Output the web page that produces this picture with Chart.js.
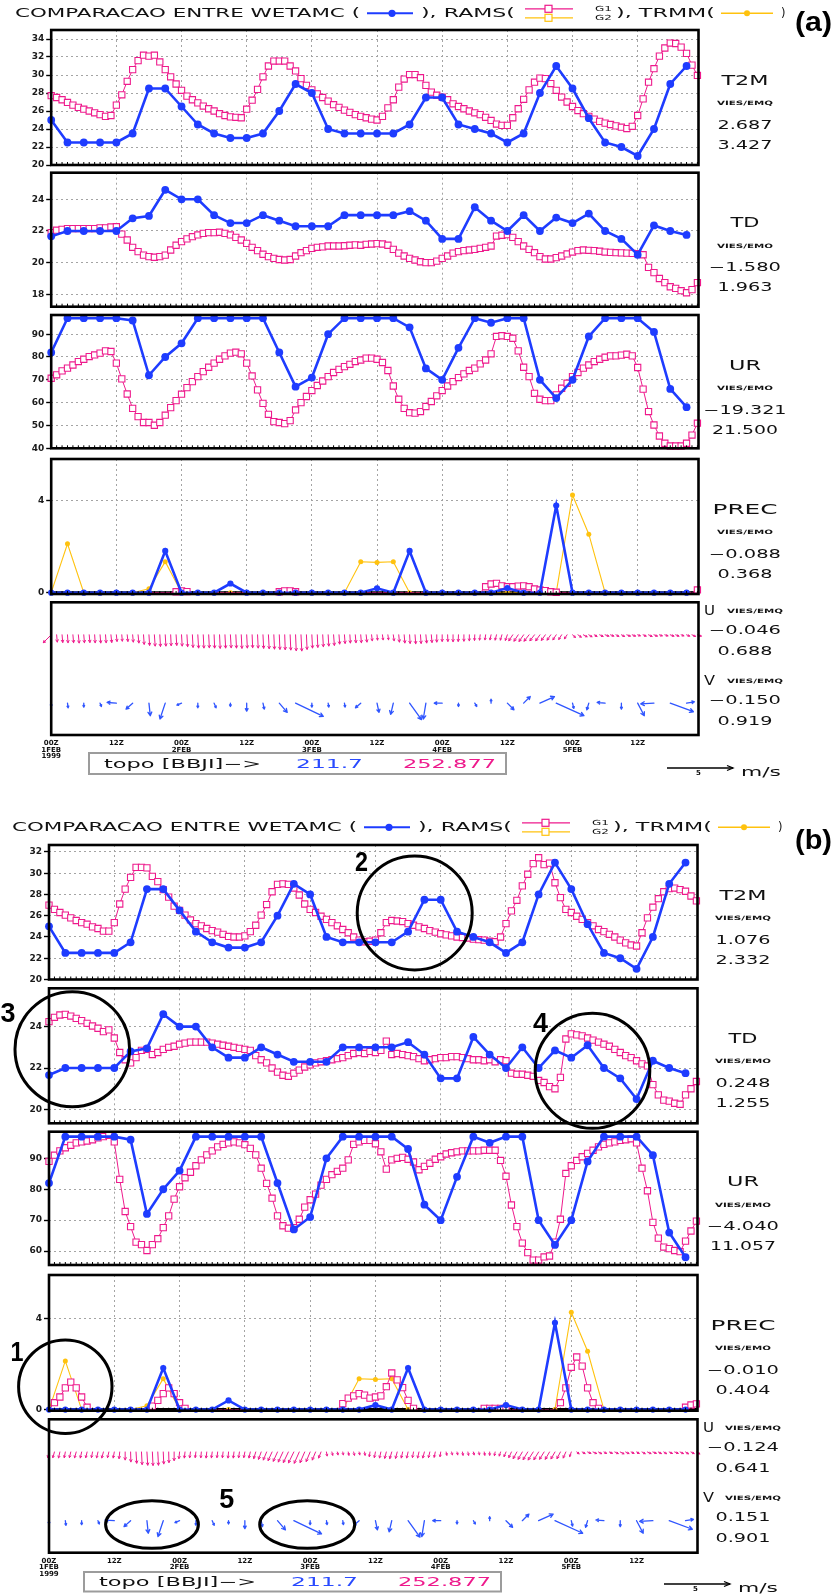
<!DOCTYPE html>
<html>
<head>
<meta charset="utf-8">
<script src="https://cdn.jsdelivr.net/npm/chart.js@4.4.1/dist/chart.umd.min.js"></script>
<style>
  html, body { margin: 0; padding: 0; background: #fff; }
  #page { position: relative; width: 832px; height: 1595px; overflow: hidden; background: #fff; }
  #page canvas { position: absolute; left: 0; }
  #page svg { position: absolute; left: 0; top: 0; }
</style>
</head>
<body>
<div id="page"></div>
<script>
// ---------------- time axis (hours since 00Z 1 FEB 1999) ----------------
const HOURS_1H = [0,1,2,3,4,5,6,7,8,9,10,11,12,13,14,15,16,17,18,19,20,21,22,23,
  24,25,26,27,28,29,30,31,32,33,34,35,36,37,38,39,40,41,42,43,44,45,46,47,
  48,49,50,51,52,53,54,55,56,57,58,59,60,61,62,63,64,65,66,67,68,69,70,71,
  72,73,74,75,76,77,78,79,80,81,82,83,84,85,86,87,88,89,90,91,92,93,94,95,
  96,97,98,99,100,101,102,103,104,105,106,107,108,109,110,111,112,113,114,115,116,117,118,119];
const HOURS_3H = [0,3,6,9,12,15,18,21,24,27,30,33,36,39,42,45,48,51,54,57,
  60,63,66,69,72,75,78,81,84,87,90,93,96,99,102,105,108,111,114,117];
const TICK_HOURS = [0,12,24,36,48,60,72,84,96,108];
const TICK_TIME  = ['00Z','12Z','00Z','12Z','00Z','12Z','00Z','12Z','00Z','12Z'];
const TICK_DAY   = ['1FEB','','2FEB','','3FEB','','4FEB','','5FEB',''];
const TICK_YEAR  = ['1999','','','','','','','','',''];

// ---------------- y ticks ----------------
const T2M_TICKS_A = [20,22,24,26,28,30,32,34];
const TD_TICKS_A  = [18,20,22,24];
const UR_TICKS_A  = [40,50,60,70,80,90];
const T2M_TICKS_B = [20,22,24,26,28,30,32];
const TD_TICKS_B  = [20,22,24];
const UR_TICKS_B  = [60,70,80,90];
const PREC_TICKS  = [0,4];

// ---------------- WETAMC station (3-hourly) ----------------
const T2M_WETAMC = [25.0,22.5,22.5,22.5,22.5,23.5,28.5,28.5,26.5,24.5,
  23.5,23.0,23.0,23.5,26.0,29.0,28.0,24.0,23.5,23.5,
  23.5,23.5,24.5,27.5,27.5,24.5,24.0,23.5,22.5,23.5,
  28.0,31.0,28.5,25.2,22.5,22.0,21.0,24.0,29.0,31.0];
const TD_WETAMC = [21.66,22.0,22.0,22.0,22.0,22.8,22.95,24.6,24.0,24.0,
  23.0,22.5,22.5,23.0,22.65,22.3,22.3,22.3,23.0,23.0,
  23.0,23.0,23.25,22.65,21.5,21.5,23.5,22.65,22.0,23.0,
  22.0,22.85,22.5,23.1,22.0,21.5,20.5,22.35,22.0,21.75];
const UR_WETAMC = [82,97,97,97,97,96,72,80,86,97,
  97,97,97,97,82,67,71,90,97,97,
  97,97,93,75,70,84,97,95,97,97,
  70,62,70,89,97,97,97,91,66,58];
const PREC_WETAMC = [0,0,0,0,0,0,0,1.82,0,0,
  0,0.4,0,0,0,0,0,0,0,0,
  0.19,0,1.82,0,0,0,0,0,0.2,0,
  0,3.8,0,0,0,0,0,0,0,0];
// TRMM (3-hourly)
const PREC_TRMM = [0,2.13,0,0,0,0,0.17,1.35,0,0,
  0,0,0,0,0,0,0,0,0,1.35,
  1.32,1.35,0,0,0,0,0,0,0,0,
  0,0,4.26,2.55,0,0,0,0,0,0];

// ---------------- RAMS, run (a) (hourly) ----------------
const T2M_RAMS_A = [27.7,27.5,27.25,26.95,26.65,26.4,26.2,26.0,25.8,25.6,25.4,25.5,26.65,27.8,29.3,30.6,31.6,32.2,32.1,32.2,31.45,30.6,29.8,29.0,
  28.3,27.65,27.25,26.9,26.55,26.25,26.0,25.7,25.5,25.35,25.3,25.25,26.2,27.2,28.4,29.8,31.0,31.55,31.55,31.55,31.0,30.45,29.6,28.85,
  28.35,27.9,27.5,27.1,26.7,26.4,26.1,25.85,25.6,25.4,25.25,25.1,25.0,25.4,26.35,27.25,28.65,29.55,30.05,30.05,29.7,28.85,28.1,27.75,
  27.55,27.25,26.8,26.5,26.25,26.0,25.8,25.6,25.3,24.95,24.55,24.4,24.4,25.25,26.25,27.3,28.35,29.2,29.65,29.6,29.05,28.3,27.55,27.0,
  26.5,26.05,25.7,25.4,25.1,24.85,24.65,24.5,24.35,24.2,24.05,24.3,25.5,27.35,29.2,30.7,32.1,33.0,33.55,33.5,33.1,32.4,31.1,29.95];
const TD_RAMS_A = [21.9,22.05,22.1,22.15,22.15,22.15,22.15,22.15,22.15,22.2,22.2,22.25,
  22.27,21.8,21.43,20.97,20.7,20.48,20.38,20.34,20.38,20.48,20.8,21.1,
  21.33,21.5,21.64,21.75,21.85,21.9,21.9,21.92,21.85,21.75,21.6,21.43,
  21.22,20.97,20.76,20.53,20.38,20.27,20.2,20.17,20.2,20.42,20.63,20.76,
  20.9,20.97,21.0,21.05,21.05,21.05,21.07,21.1,21.12,21.1,21.16,21.18,
  21.2,21.18,21.1,20.84,20.6,20.42,20.27,20.17,20.06,20.0,20.0,20.1,
  20.27,20.42,20.6,20.7,20.76,20.8,20.84,20.9,20.97,21.05,21.68,21.73,
  21.77,21.6,21.33,21.05,20.84,20.63,20.38,20.23,20.23,20.32,20.42,20.55,
  20.67,20.76,20.8,20.78,20.76,20.72,20.67,20.65,20.63,20.62,20.6,20.59,
  20.57,20.5,19.7,19.37,19.0,18.74,18.48,18.38,18.23,18.1,18.3,18.74];
const UR_RAMS_A = [70.7,72.2,73.9,75.1,76.5,78.0,79.0,80.2,80.9,81.7,82.7,82.4,
  77.3,70.4,63.8,57.5,53.9,51.3,51.3,50.1,51.3,54.5,57.8,60.9,
  63.7,66.6,69.2,71.4,73.6,75.5,77.3,79.0,80.5,81.7,82.1,81.4,
  77.3,71.7,65.6,59.7,54.9,51.7,51.3,50.8,52.1,56.8,60.0,62.7,
  65.3,67.5,69.5,71.4,73.2,74.6,75.8,76.8,78.0,78.7,79.5,79.5,
  79.0,77.6,74.1,67.3,61.5,57.5,55.6,55.4,56.1,58.3,60.5,63.0,
  65.3,67.3,69.2,71.0,72.6,74.1,75.1,77.0,78.7,81.4,89.0,89.3,
  89.0,88.2,82.7,75.5,71.4,64.1,61.5,60.9,60.9,63.4,66.3,68.5,
  71.4,73.2,75.1,76.5,78.0,79.0,79.9,80.5,80.5,80.8,81.2,80.5,
  75.4,65.9,56.1,50.2,45.4,42.2,41.0,41.0,41.0,42.2,45.8,51.0];
const PREC_RAMS_A = [0,0,0,0,0,0,0,0,0,0,0,0,
  0,0,0,0,0,0,0,0,0,0,0,0.04,
  0.08,0.05,0,0,0,0,0,0,0,0,0,0,
  0,0,0,0,0,0,0.04,0.08,0.08,0.04,0,0,
  0,0,0,0,0,0,0,0,0,0,0,0,
  0,0,0,0,0,0,0,0,0,0,0,0,
  0,0,0,0,0,0,0,0,0.26,0.38,0.41,0.3,
  0.26,0.26,0.29,0.3,0.26,0.16,0.12,0.09,0.04,0.02,0,0,
  0,0,0,0,0,0,0,0,0,0,0,0,
  0,0,0,0,0,0,0,0,0,0,0,0.12];

// ---------------- RAMS, run (b) (hourly) ----------------
const T2M_RAMS_B = [27.0,26.6,26.3,26.05,25.8,25.55,25.35,25.2,24.95,24.8,24.55,24.55,
  25.35,27.1,28.5,29.6,30.55,30.55,30.5,29.7,29.2,28.45,27.75,26.9,
  26.5,26.05,25.6,25.25,25.05,24.8,24.6,24.45,24.25,24.05,24.0,24.0,
  24.1,24.5,25.1,26.05,27.05,28.25,28.95,29.0,28.95,28.6,27.95,27.1,
  26.6,26.3,25.95,25.65,25.35,25.05,24.7,24.4,24.0,23.7,23.55,23.6,
  23.7,24.4,25.35,25.55,25.5,25.45,25.25,25.1,24.95,24.8,24.6,24.45,
  24.3,24.2,24.1,24.0,23.95,23.9,23.8,23.75,23.7,23.6,23.55,24.0,
  25.25,26.45,27.45,28.8,29.9,30.9,31.45,30.8,30.95,29.1,27.7,26.6,
  26.3,25.95,25.65,25.35,25.05,24.7,24.5,24.25,24.0,23.7,23.45,23.25,
  23.15,24.4,25.8,26.8,27.6,28.25,28.55,28.6,28.45,28.3,27.85,27.4];
const TD_RAMS_B = [24.24,24.45,24.56,24.59,24.51,24.4,24.29,24.16,24.03,23.92,23.76,23.84,
  23.45,22.75,22.4,22.25,22.5,22.85,22.9,22.65,22.75,22.9,23.0,23.05,
  23.15,23.2,23.25,23.25,23.25,23.25,23.2,23.15,23.1,23.05,23.0,22.95,
  22.9,22.85,22.6,22.4,22.25,22.0,21.8,21.65,21.6,21.75,21.9,22.05,
  22.15,22.25,22.3,22.35,22.4,22.45,22.5,22.6,22.7,22.75,22.7,22.8,
  22.75,22.85,23.3,22.65,22.7,22.65,22.6,22.55,22.45,22.35,22.4,22.45,
  22.5,22.5,22.55,22.55,22.5,22.45,22.4,22.4,22.35,22.4,22.3,22.4,
  22.35,21.75,21.7,21.7,21.65,21.6,21.4,21.3,21.1,21.0,21.55,23.4,
  23.65,23.6,23.55,23.45,23.35,23.25,23.15,23.05,22.9,22.75,22.6,22.5,
  22.35,22.2,22.1,21.2,20.7,20.45,20.4,20.3,20.25,20.7,21.0,21.35];
const UR_RAMS_B = [89.0,91.0,92.4,93.4,94.2,95.0,95.3,95.6,96.0,96.6,97.0,97.4,
  95.3,83.2,72.8,67.9,62.9,62.1,60.2,62.1,64.0,67.6,71.4,76.8,
  80.8,83.7,85.5,87.6,89.5,91.1,92.4,93.7,94.5,95.0,95.3,95.0,
  94.4,93.2,91.1,86.8,81.9,77.1,71.4,68.2,67.4,67.6,70.3,74.2,
  76.6,78.4,81.3,83.2,84.7,85.8,86.8,89.5,94.5,95.3,95.8,95.8,
  94.7,92.1,86.5,89.5,90.0,90.3,89.7,88.8,86.3,87.4,88.4,89.7,
  90.5,91.4,91.8,92.1,92.4,92.4,92.4,92.4,92.6,92.6,92.6,89.3,
  84.2,74.9,67.9,62.6,59.5,57.1,57.1,58.1,58.4,62.9,70.3,85.1,
  87.6,89.3,90.5,91.6,92.6,93.7,94.5,95.0,95.3,95.8,96.0,96.3,
  95.0,86.8,79.5,69.3,64.2,61.3,60.8,60.2,59.8,63.2,66.5,69.7];
const PREC_RAMS_B = [0,0.3,0.55,0.95,1.2,0.95,0.55,0.1,0,0,0,0,
  0,0,0,0,0,0,0,0.15,0.4,0.7,0.95,0.7,
  0.3,0.05,0,0,0,0,0,0,0,0,0,0,
  0,0,0,0,0,0,0,0,0,0,0,0,
  0,0,0,0,0,0,0.26,0.5,0.6,0.7,0.63,0.5,
  0.55,0.6,1.0,1.6,1.3,0.96,0.4,0.05,0,0,0,0,
  0,0,0,0,0,0,0,0,0.05,0.05,0.05,0.05,
  0.05,0,0,0,0,0,0,0,0,0,0.3,0.95,
  1.85,2.3,1.9,0.95,0.3,0.05,0,0,0,0,0,0,
  0,0,0,0,0,0,0,0,0,0.1,0.2,0.25];

// ---------------- surface wind components (m/s) ----------------
// WETAMC, 3-hourly
const U_WETAMC = [0,0.05,0,0.1,-0.7,-0.5,0.1,-0.4,-0.35,0,0.15,0,0,0.1,0.6,2.1,0,0.05,0.05,-0.4,
  0.15,-0.2,0.9,-0.2,-0.6,0,0.15,0,0.5,0.5,1.1,2.1,0.1,-0.15,-0.6,0,0.5,-1.0,1.75,0.6];
const V_WETAMC = [-0.25,-0.35,-0.3,-0.25,0.05,-0.45,-0.95,-1.2,-0.15,-0.35,-0.35,-0.25,-0.6,-0.45,-0.7,-1.0,-0.3,-0.3,-0.3,-0.35,
  -0.7,-0.85,-1.25,-1.2,0,-0.25,-0.25,0.3,-0.5,0.5,0.5,-0.95,-0.4,-0.5,0.05,-0.45,-0.95,-0.05,-0.65,0.1];
// RAMS (a), hourly
const U_RAMS_A = [-0.6,0.05,0.05,0.04,0.05,0.06,0.05,0.05,0.04,0.05,0.05,0.06,
  0.05,0.04,0.05,0.05,0.06,0.05,0.05,0.06,0.05,0.05,0.04,0.05,
  0.05,0.05,0.05,0.06,0.05,0.05,0.04,0.05,0.05,0.06,0.05,0.05,
  0.05,0.04,0.05,0.05,0.06,0.05,0.05,0.04,0.05,0.05,0.06,0.05,
  0.05,0.04,0.05,0.05,0.06,0.05,0.05,0.04,0.05,0.05,0.06,0.05,
  0.04,0.05,0.05,0.06,0.05,0.05,0.04,0.05,0.05,0.06,0.05,0.0,
  0.0,0.02,0.0,-0.02,0.0,0.0,-0.02,-0.05,-0.05,-0.08,-0.1,-0.12,
  -0.15,-0.3,-0.32,-0.35,-0.38,-0.35,-0.32,-0.3,-0.28,-0.25,-0.22,-0.2,
  0.22,0.25,0.28,0.24,0.21,0.26,0.29,0.25,0.22,0.24,0.27,0.25,
  0.2,0.23,0.27,0.26,0.22,0.24,0.28,0.25,0.21,0.24,0.27,0.3];
const V_RAMS_A = [-0.6,-0.55,-0.58,-0.6,-0.6,-0.62,-0.6,-0.58,-0.6,-0.62,-0.6,-0.58,
  -0.5,-0.48,-0.5,-0.55,-0.62,-0.72,-0.8,-0.85,-0.88,-0.85,-0.82,-0.8,
  -0.85,-0.9,-0.95,-1.0,-1.0,-0.98,-1.0,-1.02,-1.0,-0.98,-1.0,-1.02,
  -1.0,-0.98,-1.0,-1.02,-1.05,-1.08,-1.1,-1.12,-1.15,-1.2,-1.22,-1.1,
  -1.0,-0.95,-0.9,-0.85,-0.8,-0.7,-0.65,-0.62,-0.6,-0.6,-0.55,-0.45,
  -0.4,-0.38,-0.38,-0.45,-0.55,-0.62,-0.65,-0.68,-0.65,-0.62,-0.58,-0.55,
  -0.5,-0.5,-0.52,-0.5,-0.48,-0.45,-0.42,-0.4,-0.38,-0.38,-0.4,-0.4,
  -0.42,-0.45,-0.48,-0.5,-0.48,-0.45,-0.45,-0.42,-0.4,-0.38,-0.35,-0.3,
  -0.2,-0.18,-0.15,-0.15,-0.12,-0.12,-0.1,-0.1,-0.12,-0.12,-0.1,-0.1,
  -0.08,-0.1,-0.12,-0.1,-0.08,-0.08,-0.1,-0.1,-0.08,-0.1,-0.12,-0.1];
// RAMS (b), hourly
const U_RAMS_B = [-0.1,-0.12,-0.1,-0.08,-0.1,-0.12,-0.1,-0.1,-0.08,-0.1,-0.12,-0.1,-0.08,-0.05,
  0.0,0.02,0.05,0.05,0.06,0.05,0.05,0.04,0.02,0.0,
  -0.05,-0.05,-0.06,-0.05,-0.04,-0.05,-0.06,-0.05,-0.05,-0.04,-0.05,-0.06,-0.08,-0.1,-0.15,
  -0.2,-0.25,-0.3,-0.32,-0.35,-0.38,-0.4,-0.38,-0.35,-0.3,-0.25,-0.18,
  0.05,0.06,0.05,0.04,0.05,0.06,0.05,0.04,
  -0.05,-0.08,-0.1,-0.12,-0.15,-0.12,-0.1,-0.1,-0.08,-0.1,-0.12,-0.1,-0.08,-0.05,
  0.05,0.06,0.05,0.04,0.05,0.06,0.05,0.04,0.0,-0.05,-0.1,-0.15,-0.2,
  -0.28,-0.32,-0.35,-0.38,-0.36,-0.34,-0.32,-0.3,-0.26,-0.2,-0.12,
  0.18,0.22,0.25,0.27,0.24,0.2,0.23,0.26,0.28,0.25,0.22,0.2,0.24,0.27,0.26,0.23,0.21,0.24,0.27,0.25,0.22,0.24,0.26];
const V_RAMS_B = [-0.42,-0.43,-0.45,-0.43,-0.42,-0.44,-0.45,-0.43,-0.42,-0.44,-0.45,-0.43,-0.45,-0.5,
  -0.6,-0.75,-0.85,-0.95,-1.0,-1.02,-1.0,-0.9,-0.8,-0.65,
  -0.5,-0.45,-0.43,-0.42,-0.43,-0.45,-0.44,-0.42,-0.43,-0.45,-0.45,-0.43,-0.42,-0.45,-0.5,
  -0.55,-0.6,-0.65,-0.7,-0.75,-0.8,-0.82,-0.85,-0.8,-0.72,-0.6,-0.45,
  -0.3,-0.25,-0.22,-0.22,-0.25,-0.25,-0.22,-0.25,
  -0.35,-0.42,-0.45,-0.48,-0.5,-0.48,-0.45,-0.45,-0.42,-0.45,-0.45,-0.42,-0.4,-0.35,
  -0.25,-0.22,-0.22,-0.25,-0.25,-0.22,-0.22,-0.25,-0.25,-0.28,-0.3,-0.35,-0.42,
  -0.5,-0.55,-0.58,-0.6,-0.58,-0.55,-0.55,-0.52,-0.5,-0.45,-0.35,
  -0.14,-0.12,-0.1,-0.12,-0.13,-0.11,-0.1,-0.12,-0.14,-0.12,-0.1,-0.11,-0.13,-0.12,-0.1,-0.12,-0.13,-0.11,-0.1,-0.12,-0.14,-0.12,-0.15];

// ---------------- statistics text ----------------
const VAR_NAMES = ['T2M','TD','UR','PREC'];
const VAR_STAT_TAG = ['VIES/EMQ','VIES/EMO','VIES/EMO','VIES/EMO'];
const STATS_A = [['2.687','3.427'],['\u22121.580','1.963'],['\u221219.321','21.500'],['\u22120.088','0.368']];
const STATS_B = [['1.076','2.332'],['0.248','1.255'],['\u22124.040','11.057'],['\u22120.010','0.404']];
const WIND_STATS_A = [['\u22120.046','0.688'],['\u22120.150','0.919']];
const WIND_STATS_B = [['\u22120.124','0.641'],['0.151','0.901']];
const TOPO_LABEL = 'topo [BBJI]\u2212>';
const TOPO_WETAMC = '211.7';
const TOPO_RAMS = '252.877';

// ---------------- styling & geometry ----------------
const BLUE = '#1e3cff', PINK = '#ee1a8c', YELLOW = '#ffc20e', GRID = '#a4a4a4';
const X_MAX = 119.2;
const PX_PER_MS = 13.2;           // vector length scale (5 m/s reference arrow)
const LAYOUT = {
  a: { left: 51.2, right: 698.5, header: 13.3, tagY: 21, statX: 745, dx: 0,
       boxes: { t2m: [30, 165], td: [172.7, 306.7], ur: [315, 448.3], prec: [459, 594], wind: [602.3, 735] },
       ranges: { t2m: [20, 35], td: [17.22, 25.68], ur: [40, 98.4], prec: [-0.057, 5.83] },
       topo: [89, 753, 417, 21], topoY: 764, arrowY: 768 },
  b: { left: 49, right: 697.5, header: 827.3, tagY: 839, statX: 743, dx: -3,
       boxes: { t2m: [845, 979.5], td: [988.3, 1123.3], ur: [1131.7, 1265], prec: [1275, 1410.7], wind: [1419.3, 1552.7] },
       ranges: { t2m: [20, 32.65], td: [19.33, 25.85], ur: [55.5, 98.6], prec: [-0.05, 5.89] },
       topo: [84, 1572, 417, 19.5], topoY: 1581.7, arrowY: 1584 }
};

const page = document.getElementById('page');

// ---------------- plugins ----------------
const framePlugin = {
  id: 'frame',
  beforeDatasetsDraw(chart) {
    if (!chart.canvas._zeroLine) return;
    const { ctx, chartArea } = chart;
    const y = chart.scales.y.getPixelForValue(0);
    ctx.save();
    ctx.strokeStyle = '#000'; ctx.lineWidth = 3;
    ctx.beginPath(); ctx.moveTo(chartArea.left, y); ctx.lineTo(chartArea.right, y); ctx.stroke();
    ctx.restore();
  },
  afterDraw(chart) {
    const { ctx, chartArea: a } = chart;
    ctx.save();
    ctx.strokeStyle = '#000'; ctx.lineWidth = 2.6;
    ctx.strokeRect(a.left, a.top, a.right - a.left, a.bottom - a.top);
    // small hourly ticks along the bottom edge
    if (!chart.canvas._noMinor) {
      const xs = chart.scales.x;
      ctx.lineWidth = 1;
      ctx.beginPath();
      for (let h = 0; h <= 119; h += 1) {
        const x = xs.getPixelForValue(h);
        ctx.moveTo(x, a.bottom); ctx.lineTo(x, a.bottom - 3);
      }
      ctx.stroke();
    }
    ctx.restore();
  }
};

const windPlugin = {
  id: 'windArrows',
  afterDatasetsDraw(chart) {
    const series = chart.canvas._wind;
    if (!series) return;
    const { ctx } = chart;
    const xs = chart.scales.x, ys = chart.scales.y;
    ctx.save();
    ctx.lineCap = 'round'; ctx.lineJoin = 'round';
    series.forEach(s => {
      ctx.strokeStyle = s.color; ctx.lineWidth = s.width;
      const y0 = ys.getPixelForValue(s.base);
      s.hours.forEach((h, i) => {
        const x0 = xs.getPixelForValue(h);
        const dx = s.u[i] * PX_PER_MS, dy = -s.v[i] * PX_PER_MS;
        const len = Math.hypot(dx, dy);
        const x1 = x0 + dx, y1 = y0 + dy;
        ctx.beginPath();
        ctx.moveTo(x0, y0); ctx.lineTo(x1, y1);
        if (len > 0.8) {
          const hl = Math.min(s.head, Math.max(1.8, len * 0.35));
          const ang = Math.atan2(dy, dx);
          ctx.moveTo(x1 - hl * Math.cos(ang - 0.5), y1 - hl * Math.sin(ang - 0.5));
          ctx.lineTo(x1, y1);
          ctx.lineTo(x1 - hl * Math.cos(ang + 0.5), y1 - hl * Math.sin(ang + 0.5));
        }
        ctx.stroke();
      });
    });
    ctx.restore();
  }
};

// ---------------- dataset builders ----------------
function pts(hours, values) { return hours.map((h, i) => ({ x: h, y: values[i] })); }
function wetamcSet(values, small) {
  return { data: pts(HOURS_3H, values), borderColor: BLUE, backgroundColor: BLUE,
    pointBackgroundColor: BLUE, borderWidth: 2.6, pointRadius: small ? 3.1 : 3.9,
    pointBorderWidth: 0, pointStyle: 'circle', tension: 0, order: 0, clip: 6 };
}
function ramsSet(values, hideZero) {
  return { data: pts(HOURS_1H, values), borderColor: PINK, backgroundColor: '#fff',
    pointBackgroundColor: '#fff', pointBorderColor: PINK, borderWidth: 1, pointBorderWidth: 1.1,
    pointStyle: 'rect',
    pointRadius: hideZero ? (c => (c.raw && c.raw.y > 0.001) ? 4.4 : 0) : 4.4,
    tension: 0, order: 1, clip: 6 };
}
function trmmSet(values) {
  return { data: pts(HOURS_3H, values), borderColor: YELLOW, backgroundColor: YELLOW,
    pointBackgroundColor: YELLOW, borderWidth: 1.1, pointRadius: 2.5, pointBorderWidth: 0,
    pointStyle: 'circle', tension: 0, order: 2, clip: 6 };
}

// ---------------- one framed plot ----------------
function buildPlot(spec) {
  const padT = 9;
  const axisH = spec.xLabels ? 26 : 0;
  const canvasTop = Math.floor(spec.top) - padT;
  const innerBottom = spec.bottom - canvasTop;
  const height = Math.ceil(innerBottom) + (spec.xLabels ? axisH + 2 : 9);
  const cv = document.createElement('canvas');
  cv.width = 832; cv.height = height;
  cv.style.top = canvasTop + 'px'; cv.style.width = '832px'; cv.style.height = height + 'px';
  cv._zeroLine = !!spec.zeroLine;
  cv._wind = spec.wind || null;
  cv._noMinor = !!spec.wind;
  page.appendChild(cv);
  const hasY = spec.yTicks.length > 0;
  new Chart(cv, {
    type: 'line',
    data: { datasets: spec.datasets },
    options: {
      responsive: false, animation: false, devicePixelRatio: 1,
      events: [],
      layout: { padding: { left: 0, right: 832 - spec.right, top: spec.top - canvasTop,
                           bottom: height - innerBottom - axisH } },
      plugins: { legend: { display: false }, tooltip: { enabled: false } },
      scales: {
        x: {
          type: 'linear', min: 0, max: X_MAX,
          afterBuildTicks: s => { s.ticks = TICK_HOURS.map(v => ({ value: v })); },
          ticks: {
            display: !!spec.xLabels, autoSkip: false, maxRotation: 0, minRotation: 0, padding: 5,
            color: '#111', font: { family: 'DejaVu Sans', size: 7, weight: 'bold', lineHeight: 0.95 },
            callback: v => {
              const k = TICK_HOURS.indexOf(v);
              return [TICK_TIME[k], TICK_DAY[k], TICK_YEAR[k]].filter(t => t !== '');
            }
          },
          grid: { display: !spec.xLabels, drawTicks: false, color: GRID, lineWidth: 1 },
          border: { display: false, dash: [2, 3] },
          afterFit: s => { s.height = axisH; }
        },
        y: {
          min: spec.range[0], max: spec.range[1],
          afterBuildTicks: s => { s.ticks = spec.yTicks.map(v => ({ value: v })); },
          ticks: { display: hasY, color: '#1a1a1a', padding: 2,
                   font: { family: 'DejaVu Sans', size: 9, weight: 'bold' },
                   callback: v => String(v) },
          grid: { display: hasY, color: GRID, lineWidth: 1, tickLength: 5, tickColor: '#000', tickWidth: 1.4 },
          border: { display: false, dash: [2, 3] },
          afterFit: s => { s.width = spec.left; }
        }
      }
    },
    plugins: [framePlugin, windPlugin]
  });
}

function buildPanel(key, rams, ticks, uR, vR) {
  const L = LAYOUT[key], B = L.boxes, R = L.ranges;
  const common = { left: L.left, right: L.right };
  buildPlot({ ...common, top: B.t2m[0], bottom: B.t2m[1], range: R.t2m, yTicks: ticks.t2m,
    datasets: [wetamcSet(T2M_WETAMC), ramsSet(rams.t2m)] });
  buildPlot({ ...common, top: B.td[0], bottom: B.td[1], range: R.td, yTicks: ticks.td,
    datasets: [wetamcSet(TD_WETAMC), ramsSet(rams.td)] });
  buildPlot({ ...common, top: B.ur[0], bottom: B.ur[1], range: R.ur, yTicks: ticks.ur,
    datasets: [wetamcSet(UR_WETAMC), ramsSet(rams.ur)] });
  buildPlot({ ...common, top: B.prec[0], bottom: B.prec[1], range: R.prec, yTicks: PREC_TICKS, zeroLine: true,
    datasets: [wetamcSet(PREC_WETAMC, true), ramsSet(rams.prec, true), trmmSet(PREC_TRMM)] });
  buildPlot({ ...common, top: B.wind[0], bottom: B.wind[1], range: [0, 1], yTicks: [], xLabels: true,
    datasets: [],
    wind: [
      { hours: HOURS_1H, u: uR, v: vR, base: 0.755, color: PINK, width: 1, head: 2.5 },
      { hours: HOURS_3H, u: U_WETAMC, v: V_WETAMC, base: 0.24, color: '#2f55ff', width: 1.3, head: 4 }
    ] });
}

buildPanel('a', { t2m: T2M_RAMS_A, td: TD_RAMS_A, ur: UR_RAMS_A, prec: PREC_RAMS_A },
  { t2m: T2M_TICKS_A, td: TD_TICKS_A, ur: UR_TICKS_A }, U_RAMS_A, V_RAMS_A);
buildPanel('b', { t2m: T2M_RAMS_B, td: TD_RAMS_B, ur: UR_RAMS_B, prec: PREC_RAMS_B },
  { t2m: T2M_TICKS_B, td: TD_TICKS_B, ur: UR_TICKS_B }, U_RAMS_B, V_RAMS_B);

// ---------------- text, legends and annotations (SVG layer) ----------------
const NS = 'http://www.w3.org/2000/svg';
const svg = document.createElementNS(NS, 'svg');
svg.setAttribute('width', 832); svg.setAttribute('height', 1595);
page.appendChild(svg);
function el(name, attrs) {
  const e = document.createElementNS(NS, name);
  for (const k in attrs) e.setAttribute(k, attrs[k]);
  svg.appendChild(e);
  return e;
}
function text(x, y, s, o) {
  const t = el('text', { x, y, 'font-family': o.family || 'DejaVu Sans', 'font-size': o.size,
    'font-weight': o.weight || 'normal', fill: o.color || '#111', 'dominant-baseline': 'central',
    'text-anchor': o.anchor || 'start' });
  if (o.width) { t.setAttribute('textLength', o.width); t.setAttribute('lengthAdjust', o.adjust || 'spacingAndGlyphs'); }
  t.textContent = s;
  return t;
}

function headerAndSide(key, stats, windStats, tag) {
  const L = LAYOUT[key], y = L.header, dx = L.dx;
  text(15 + dx, y, 'COMPARACAO ENTRE WETAMC (', { size: 11.5, width: 345 });
  el('line', { x1: 367 + dx, y1: y, x2: 413 + dx, y2: y, stroke: BLUE, 'stroke-width': 2 });
  el('circle', { cx: 392 + dx, cy: y, r: 3.6, fill: BLUE });
  text(421 + dx, y, '), RAMS(', { size: 11.5, width: 94 });
  el('line', { x1: 525 + dx, y1: y - 4.5, x2: 573 + dx, y2: y - 4.5, stroke: PINK, 'stroke-width': 1.2 });
  el('rect', { x: 545 + dx, y: y - 8, width: 7, height: 7, fill: '#fff', stroke: PINK, 'stroke-width': 1.2 });
  el('line', { x1: 525 + dx, y1: y + 4.5, x2: 573 + dx, y2: y + 4.5, stroke: YELLOW, 'stroke-width': 1.2 });
  el('rect', { x: 545 + dx, y: y + 1, width: 7, height: 7, fill: '#fff', stroke: YELLOW, 'stroke-width': 1.2 });
  text(595 + dx, y - 4.3, 'G1', { size: 7, width: 17 });
  text(595 + dx, y + 4.3, 'G2', { size: 7, width: 17 });
  text(616 + dx, y, '), TRMM(', { size: 11.5, width: 99 });
  el('line', { x1: 721 + dx, y1: y, x2: 773 + dx, y2: y, stroke: YELLOW, 'stroke-width': 1.6 });
  el('circle', { cx: 747 + dx, cy: y, r: 3, fill: YELLOW });
  text(781 + dx, y, ')', { size: 11.5 });
  text(795, L.tagY, tag, { family: 'Liberation Sans', size: 28, weight: 'bold', width: 37, color: '#000' });

  // statistics column
  const cx = L.statX;
  const names = ['t2m', 'td', 'ur', 'prec'];
  names.forEach((n, i) => {
    const top = L.boxes[n][0];
    text(cx, top + 49.5, VAR_NAMES[i], { size: 14, anchor: 'middle', width: [47, 29, 32, 65][i] });
    text(cx, top + 72.5, VAR_STAT_TAG[i], { size: 6, weight: 'bold', anchor: 'middle', width: 56 });
    stats[i].forEach((s, j) => {
      const w = s.length * 11 + (s.indexOf('\u2212') >= 0 ? 6 : 0);
      text(cx, top + (j ? 114.5 : 94.5), s, { size: 11.5, anchor: 'middle', width: w });
    });
  });
  const wt = L.boxes.wind[0];
  ['U', 'V'].forEach((c, k) => {
    const off = k ? 77.7 : 7.7;
    text(L.right + 11, wt + off, c, { size: 14, anchor: 'middle', width: 11 });
    text(cx + 10, wt + off, 'VIES/EMQ', { size: 6, weight: 'bold', anchor: 'middle', width: 56 });
    windStats[k].forEach((s, j) => {
      const w = s.length * 11 + (s.indexOf('\u2212') >= 0 ? 6 : 0);
      text(cx, wt + off + (j ? 41 : 19.5), s, { size: 11.5, anchor: 'middle', width: w });
    });
  });

  // topography box
  const T = L.topo;
  el('rect', { x: T[0], y: T[1], width: T[2], height: T[3], fill: 'none', stroke: '#9c9c9c', 'stroke-width': 2 });
  text(T[0] + 15, L.topoY, TOPO_LABEL, { size: 12, width: 157, color: '#111' });
  text(T[0] + 207, L.topoY, TOPO_WETAMC, { size: 12, width: 67, color: '#2a4bff' });
  text(T[0] + 314, L.topoY, TOPO_RAMS, { size: 12, width: 93, color: PINK });

  // reference vector
  const ay = L.arrowY, ax0 = 667 + dx, ax1 = ax0 + 5 * PX_PER_MS;
  el('line', { x1: ax0, y1: ay, x2: ax1, y2: ay, stroke: '#000', 'stroke-width': 1.3 });
  el('path', { d: `M${ax1 - 6},${ay - 2.5} L${ax1},${ay} L${ax1 - 6},${ay + 2.5}`, fill: 'none', stroke: '#000', 'stroke-width': 1.3 });
  text(ax0 + 29, ay + 4.5, '5', { size: 7, weight: 'bold' });
  text(ax1 + 8, ay + 3.5, 'm/s', { size: 11.5, width: 40 });
}

headerAndSide('a', STATS_A, WIND_STATS_A, '(a)');
headerAndSide('b', STATS_B, WIND_STATS_B, '(b)');

// highlighted regions in (b)
const RING = { fill: 'none', stroke: '#000', 'stroke-width': 3 };
el('ellipse', { cx: 65.3, cy: 1386.7, rx: 46.7, ry: 46.7, ...RING });
el('ellipse', { cx: 414.7, cy: 913, rx: 57.5, ry: 57, ...RING });
el('ellipse', { cx: 72.3, cy: 1049.2, rx: 57.3, ry: 57.5, ...RING });
el('ellipse', { cx: 592.5, cy: 1070.8, rx: 57.3, ry: 57.5, ...RING });
el('ellipse', { cx: 152, cy: 1524.5, rx: 46.4, ry: 23.8, ...RING });
el('ellipse', { cx: 307.2, cy: 1524.5, rx: 47.5, ry: 23.8, ...RING });
const MARK = { family: 'Liberation Sans', size: 27, weight: 'bold', color: '#000', anchor: 'middle' };
text(17, 1352, '1', { ...MARK, width: 13 });
text(361.5, 862, '2', { ...MARK, width: 13 });
text(8, 1013, '3', { ...MARK, width: 15 });
text(540.5, 1022.5, '4', { ...MARK, width: 15 });
text(226.7, 1499, '5', { ...MARK, width: 15 });
</script>
</body>
</html>
